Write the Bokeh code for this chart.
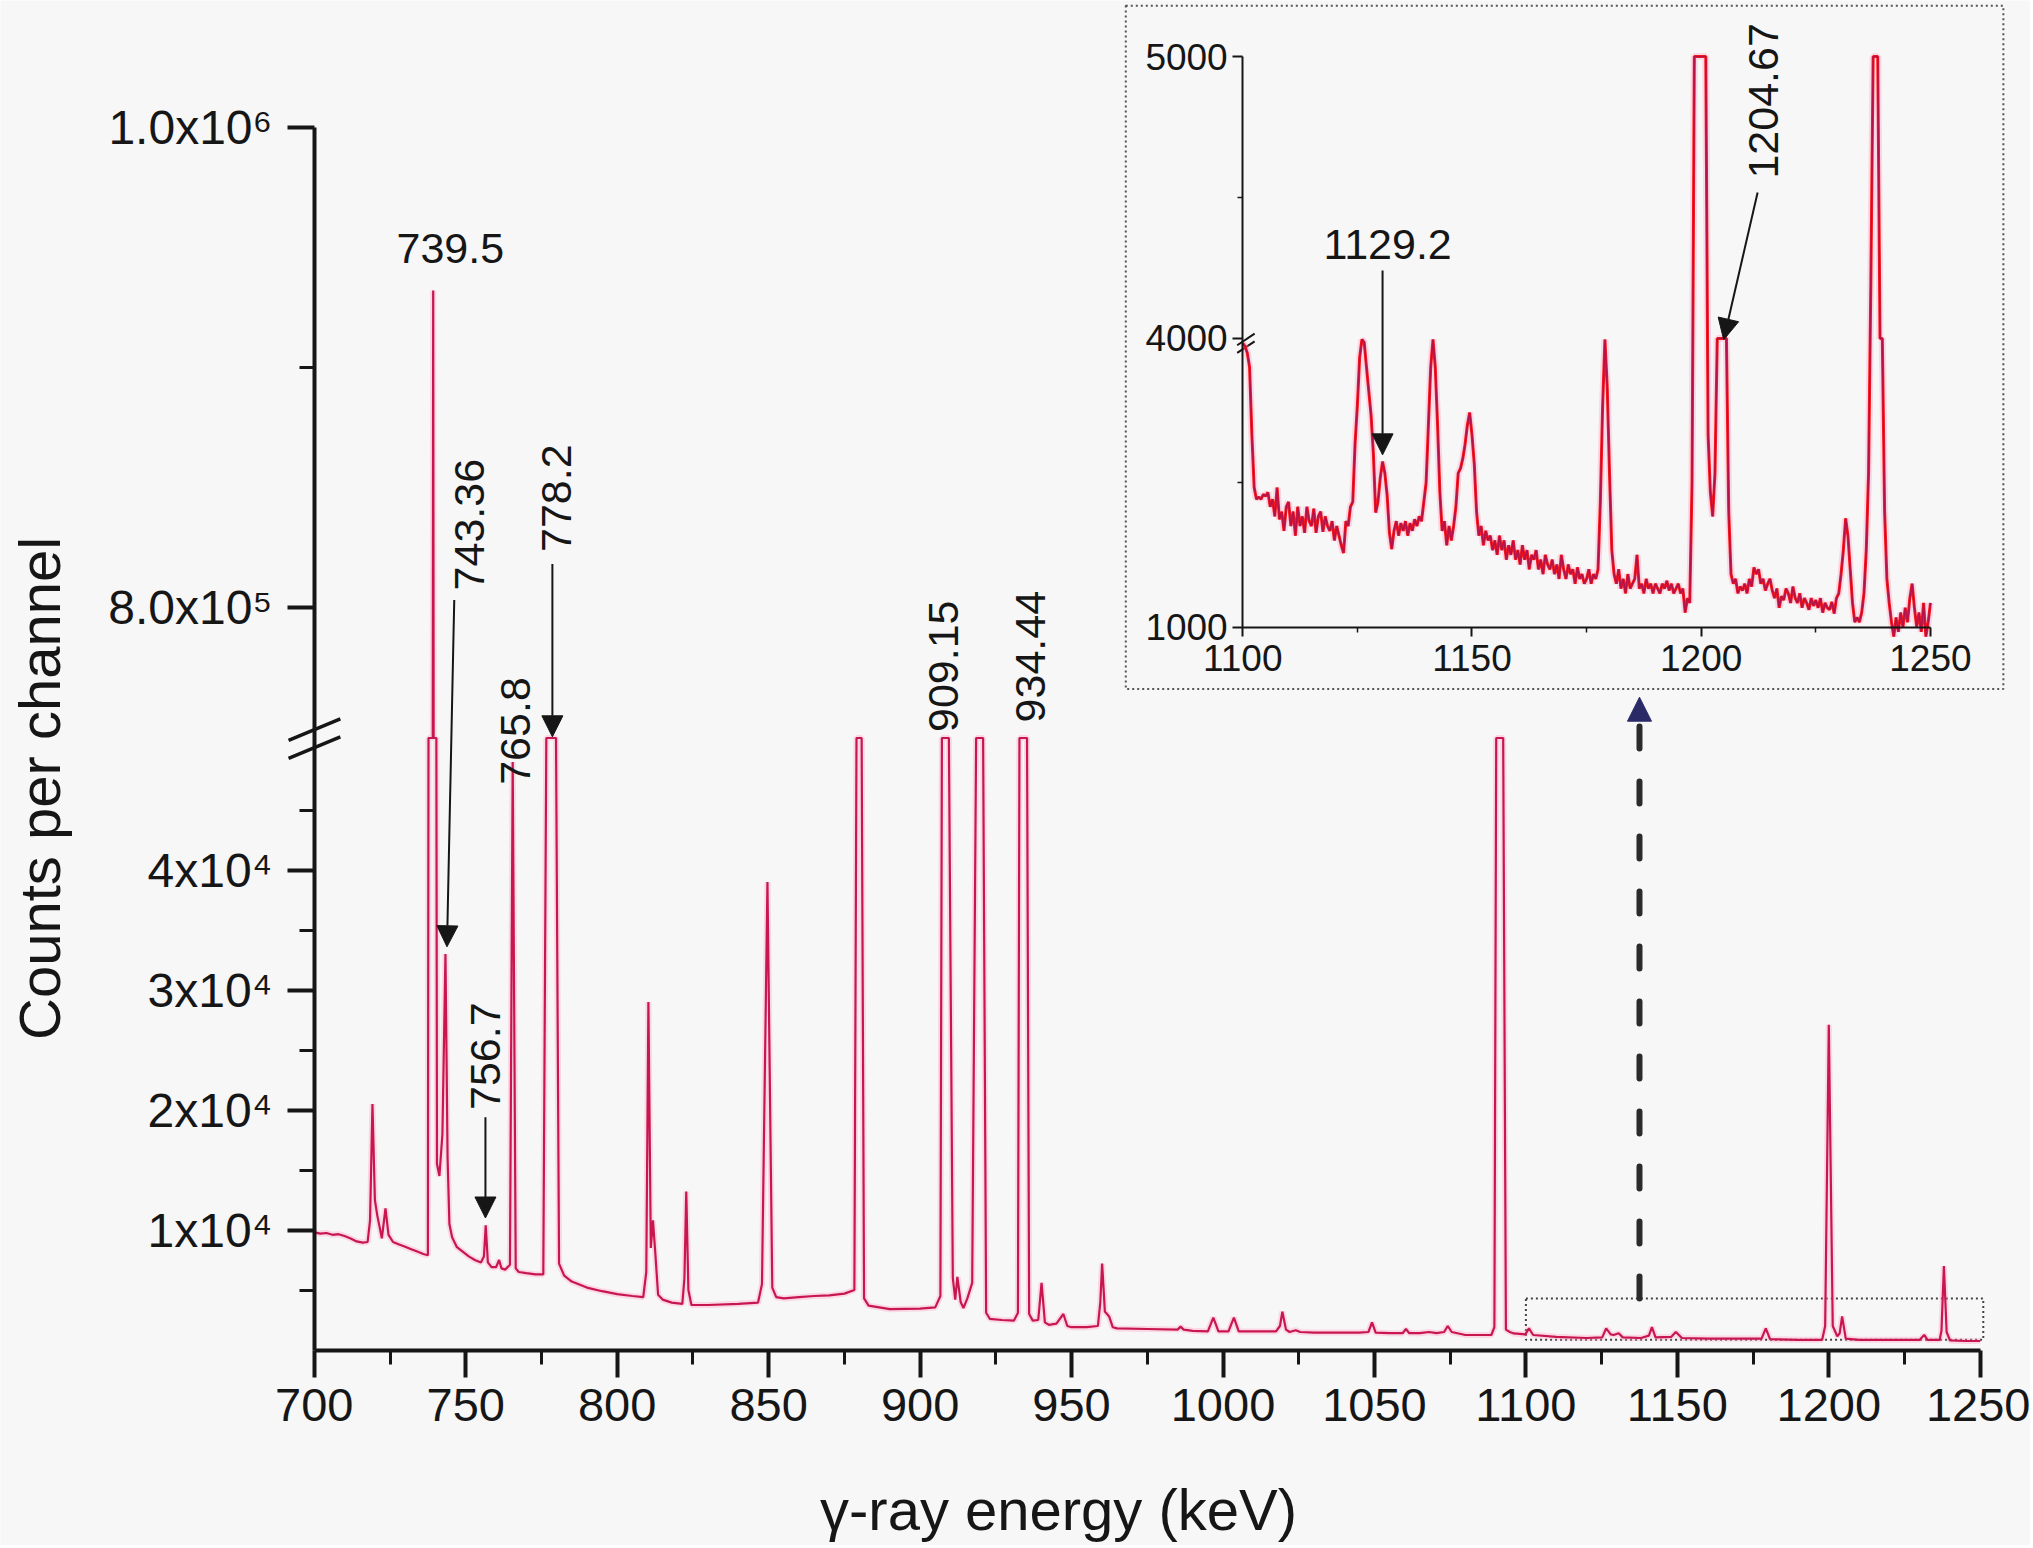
import numpy as np
from bokeh.plotting import figure
from bokeh.models import Range1d, LinearAxis, FixedTicker, Label, Arrow, NormalHead
from bokeh.embed import file_html
from bokeh.resources import INLINE

# ------------------------------------------------------------------ data
# main spectrum (energy in keV, counts per channel);
# 51000 marks the places where a peak is cut by the axis break
ENERGY_KEV = [
    700.0, 702.0, 704.0, 706.0, 708.0, 710.0, 712.0, 714.0, 716.0, 717.6,
    718.4, 719.2, 720.0, 720.8, 721.6, 722.3, 723.5, 724.5, 726.0, 728.0,
    730.0, 732.0, 734.0, 736.0, 737.5, 737.7, 739.1, 739.25, 739.4, 740.3,
    740.5, 741.3, 742.3, 743.3, 744.0, 744.6, 745.5, 747.0, 749.0, 751.0,
    753.0, 755.0, 756.0, 756.6, 757.3, 758.5, 760.0, 761.0, 761.8, 763.0,
    764.6, 765.5, 766.5, 767.5, 770.0, 773.0, 775.6, 776.6, 779.8, 780.8,
    782.5, 785.0, 790.0, 795.0, 800.0, 805.0, 808.6, 809.6, 810.3, 811.1,
    811.8, 812.6, 813.5, 815.0, 818.0, 821.5, 822.2, 822.8, 823.5, 824.5,
    830.0, 840.0, 846.5, 847.8, 849.6, 851.2, 852.5, 855.0, 860.0, 865.0,
    870.0, 875.0, 878.3, 879.0, 880.7, 881.5, 883.0, 890.0, 900.0, 905.0,
    906.7, 907.2, 909.5, 910.8, 911.6, 912.3, 913.4, 914.3, 915.6, 917.2,
    918.5, 920.8, 921.8, 923.0, 927.0, 931.0, 932.3, 932.8, 935.3, 936.0,
    937.2, 939.0, 940.1, 941.2, 942.5, 945.0, 947.3, 948.6, 950.0, 955.0,
    958.7, 959.5, 960.1, 961.0, 962.4, 963.6, 965.0, 975.0, 985.0, 986.0,
    987.0, 990.0, 995.0, 996.8, 998.5, 1001.8, 1003.6, 1005.2, 1010.0, 1017.5,
    1018.8, 1019.6, 1020.8, 1022.0, 1024.0, 1025.5, 1030.0, 1045.0, 1048.0, 1049.2,
    1050.4, 1055.0, 1059.3, 1060.4, 1061.5, 1065.0, 1068.0, 1070.5, 1073.0, 1074.2,
    1075.5, 1080.0, 1088.6, 1089.6, 1090.2, 1092.5, 1093.4, 1094.7, 1096.0, 1099.8,
    1101.0, 1102.4, 1110.0, 1120.0, 1125.2, 1126.5, 1128.0, 1129.0, 1130.6, 1132.0,
    1138.0, 1140.6, 1141.6, 1142.8, 1148.0, 1149.5, 1151.5, 1160.0, 1170.0, 1177.8,
    1179.2, 1180.6, 1190.0, 1197.8, 1198.8, 1200.0, 1201.3, 1202.8, 1203.6, 1204.4,
    1205.6, 1210.0, 1220.0, 1230.0, 1231.5, 1232.6, 1236.6, 1237.2, 1238.0, 1238.9,
    1240.0, 1245.0, 1250.0,
]
COUNTS = [
    9800, 9700, 9750, 9600, 9650, 9500, 9300, 9050, 8950, 9000,
    10800, 20500, 12500, 11200, 10200, 9300, 11800, 9600, 9000, 8800,
    8600, 8400, 8200, 8000, 7900, 51000, 51000, 932000, 51000, 51000,
    15500, 14500, 18000, 33000, 16000, 10500, 9400, 8600, 8200, 7800,
    7500, 7300, 7800, 10400, 7300, 6900, 6900, 7500, 6800, 6700,
    7100, 49000, 6800, 6500, 6400, 6300, 6300, 51000, 51000, 7200,
    6200, 5700, 5200, 4900, 4650, 4500, 4400, 6500, 29000, 8500,
    10800, 8000, 4600, 4200, 3950, 3850, 6000, 13200, 5000, 3750,
    3750, 3850, 3950, 5500, 39000, 5200, 4400, 4300, 4400, 4500,
    4550, 4700, 5000, 51000, 51000, 4300, 3700, 3400, 3450, 3550,
    4500, 51000, 51000, 6000, 4200, 6100, 4000, 3500, 4300, 5600,
    51000, 51000, 3100, 2600, 2500, 2450, 3100, 51000, 51000, 3000,
    2450, 2500, 5600, 2300, 2100, 2200, 3000, 2000, 1900, 1900,
    2000, 4000, 7200, 3200, 2800, 1900, 1800, 1750, 1700, 1950,
    1700, 1600, 1550, 2700, 1550, 1550, 2700, 1550, 1550, 1550,
    2000, 3200, 1700, 1500, 1650, 1500, 1450, 1450, 1500, 2300,
    1450, 1400, 1400, 1750, 1400, 1400, 1500, 1400, 1500, 2000,
    1500, 1250, 1250, 1900, 51000, 51000, 1700, 1500, 1380, 1300,
    1800, 1250, 1100, 1000, 1050, 1800, 1300, 1250, 1400, 1050,
    1000, 1200, 1900, 1050, 1100, 1500, 1000, 950, 950, 950,
    1800, 900, 850, 850, 2000, 27100, 2000, 1150, 1400, 2800,
    950, 850, 850, 850, 1250, 850, 850, 1600, 7000, 1500,
    800, 750, 750,
]

# inset spectrum: channels every 0.5 keV from 1100 keV
INSET_START_KEV = 1100.0
INSET_STEP_KEV = 0.5
INSET_COUNTS = [
    3950, 3920, 3850, 3700, 3000, 2450, 2330, 2350, 2330, 2380,   # 1100
    2360, 2400, 2250, 2330, 2150, 2450, 2120, 2200, 2000, 2250,   # 1105
    2300, 2050, 2200, 1950, 2250, 2050, 2150, 1980, 2250, 2100,   # 1110
    2050, 2230, 1980, 2150, 2200, 1990, 2150, 2050, 2000, 2100,   # 1115
    1900, 2050, 1950, 1850, 1770, 2100, 2050, 2250, 2300, 2900,   # 1120
    3300, 3800, 3990, 3960, 3700, 3450, 3200, 2800, 2190, 2300,   # 1125
    2550, 2720, 2600, 2370, 1980, 1810, 2000, 2100, 1950, 2080,   # 1130
    2000, 2100, 1950, 2080, 2000, 2120, 2050, 2150, 2100, 2300,   # 1135
    2500, 3100, 3700, 3990, 3700, 3100, 2400, 2000, 2100, 1850,   # 1140
    2050, 1900, 2050, 2250, 2600, 2650, 2750, 2900, 3100, 3230,   # 1145
    3000, 2700, 2200, 1950, 2050, 1850, 2000, 1900, 1950, 1800,   # 1150
    1900, 1750, 1950, 1800, 1900, 1700, 1850, 1750, 1900, 1700,   # 1155
    1800, 1650, 1850, 1700, 1800, 1600, 1750, 1700, 1800, 1600,   # 1160
    1700, 1550, 1750, 1650, 1600, 1700, 1550, 1650, 1500, 1750,   # 1165
    1600, 1500, 1650, 1550, 1600, 1450, 1620, 1500, 1550, 1450,   # 1170
    1500, 1600, 1450, 1550, 1500, 1600, 2300, 3300, 3990, 3500,   # 1175
    2600, 1800, 1550, 1450, 1600, 1400, 1500, 1350, 1550, 1400,   # 1180
    1450, 1500, 1750, 1400, 1450, 1350, 1500, 1400, 1450, 1350,   # 1185
    1450, 1400, 1350, 1450, 1400, 1480, 1380, 1450, 1350, 1400,   # 1190
    1450, 1350, 1400, 1150, 1300, 1250, 2500, 5000, 5000, 5000,   # 1195
    5000, 5000, 5000, 3000, 2400, 2150, 2600, 4000, 4000, 4000,   # 1200
    4000, 4000, 2200, 1550, 1450, 1500, 1350, 1420, 1380, 1450,   # 1205
    1350, 1500, 1420, 1620, 1550, 1600, 1450, 1500, 1380, 1450,   # 1210
    1500, 1380, 1300, 1400, 1200, 1320, 1280, 1400, 1350, 1250,   # 1215
    1420, 1300, 1250, 1350, 1200, 1300, 1250, 1180, 1300, 1220,   # 1220
    1280, 1200, 1300, 1150, 1250, 1200, 1180, 1260, 1140, 1300,   # 1225
    1350, 1550, 1800, 2130, 1950, 1600, 1250, 1050, 1100, 1050,   # 1230
    1150, 1350, 1800, 2600, 4200, 5000, 5000, 5000, 4000, 4000,   # 1235
    2200, 1500, 1250, 1050, 900, 1100, 950, 1150, 1000, 1200,     # 1240
    1050, 1300, 1450, 1200, 1000, 1150, 950, 1250, 900, 1050,     # 1245
    1250,                                                         # 1250
]

MAIN_X_TICKS = [700, 750, 800, 850, 900, 950, 1000, 1050, 1100, 1150, 1200, 1250]
MAIN_X_MINOR = [725, 775, 825, 875, 925, 975, 1025, 1075, 1125, 1175, 1225]
MAIN_Y_TICK_COUNTS = [1e4, 2e4, 3e4, 4e4, 8e5, 1e6]
MAIN_Y_TICK_LABELS = ["1x10\u2074", "2x10\u2074", "3x10\u2074", "4x10\u2074",
                      "8.0x10\u2075", "1.0x10\u2076"]
MAIN_Y_MINOR_COUNTS = [5e3, 1.5e4, 2.5e4, 3.5e4, 4.5e4, 9e5]

INSET_X_TICKS = [1100, 1150, 1200, 1250]
INSET_X_MINOR = [1125, 1175, 1225]
INSET_Y_TICK_COUNTS = [1000, 4000, 5000]
INSET_Y_TICK_LABELS = ["1000", "4000", "5000"]
INSET_Y_MINOR_COUNTS = [2500, 4500]

X_TITLE = "\u03b3-ray energy (keV)"
Y_TITLE = "Counts per channel"

# peak labels: text, energy (keV), counts (centre of horizontal text / start of
# rotated text), rotated?
MAIN_PEAK_LABELS = [
    ("739.5", 744.9, 9.493e5, False),
    ("743.36", 751.4, 8.07e5, True),
    ("778.2", 780.0, 8.23e5, True),
    ("765.8", 766.3, 4.71e4, True),
    ("756.7", 756.5, 2.0e4, True),
    ("909.15", 907.8, 7.48e5, True),
    ("934.44", 936.4, 7.52e5, True),
]
# arrows: (x_start, counts_start, x_end, counts_end)
MAIN_PEAK_ARROWS = [
    (746.2, 8.03e5, 743.8, 3.36e4),
    (778.6, 8.18e5, 778.6, 7.46e5),
    (756.5, 1.94e4, 756.5, 1.10e4),
]
INSET_PEAK_LABELS = [
    ("1129.2", 1131.6, 4333, False),
    ("1204.67", 1213.6, 4567, True),
]
INSET_PEAK_ARROWS = [
    (1130.5, 4241, 1130.5, 2790),
    (1212.3, 4518, 1204.9, 3986),
]

# ------------------------------------------------------------------ styling
FONT = "Liberation Sans"
INK = "#161616"
BG = "#f7f7f7"
LINE = "#c8174f"
HALO = "#ff9fc3"

# broken main y axis: lower part 1 unit = 1e4 counts, upper part 1 unit = 5e4 counts
LOWER_UNIT = 1e4
BREAK_U = 5.1
UPPER_C0, UPPER_U0, UPPER_UNIT = 8e5, 6.19, 5e4
BREAK_LO = BREAK_U * LOWER_UNIT
BREAK_HI = UPPER_C0 - (UPPER_U0 - BREAK_U) * UPPER_UNIT


def main_u(c):
    c = np.asarray(c, dtype=float)
    return np.where(c >= BREAK_HI, UPPER_U0 + (c - UPPER_C0) / UPPER_UNIT,
                    np.minimum(c, BREAK_LO) / LOWER_UNIT)


# broken inset y axis: 1000-4000 compressed, 4000-5000 expanded
INSET_UPPER_GAIN = 2.932


def inset_u(c):
    c = np.asarray(c, dtype=float)
    return np.where(c <= 4000, (c - 1000) / 1000, 3 + (c - 4000) / 1000 * INSET_UPPER_GAIN)


W, H = 2030, 1545
p = figure(width=W, height=H,
           x_range=Range1d(596.40, 596.40 + W / 3.029),
           y_range=Range1d(-(H - 1349.5) / 120.0, 1349.5 / 120.0),
           x_axis_type=None, y_axis_type=None, toolbar_location=None,
           output_backend="svg", min_border=0, title=None,
           background_fill_color=BG, border_fill_color=BG, outline_line_color=None)
p.extra_x_ranges = {"ix": Range1d(829.07, 829.07 + W / 4.585)}
p.extra_y_ranges = {"iy": Range1d(-(H - 626.5) / 96.17, 626.5 / 96.17)}
IN = dict(x_range_name="ix", y_range_name="iy")


def style_axis(ax, size, lw, tout, mout, standoff):
    ax.axis_line_color = INK
    ax.axis_line_width = lw
    ax.major_tick_line_color = INK
    ax.major_tick_line_width = lw
    ax.minor_tick_line_color = INK
    ax.minor_tick_line_width = max(1.5, lw - 1)
    ax.major_tick_in = 0
    ax.major_tick_out = tout
    ax.minor_tick_in = 0
    ax.minor_tick_out = mout
    ax.major_label_text_font = FONT
    ax.major_label_text_font_size = f"{size}px"
    ax.major_label_text_color = INK
    ax.major_label_standoff = standoff


# ---- main axes
xax = LinearAxis(fixed_location=0, bounds=(700, 1250),
                 ticker=FixedTicker(ticks=MAIN_X_TICKS, minor_ticks=MAIN_X_MINOR))
style_axis(xax, 47, 4, 27, 14, 12)
p.add_layout(xax, "below")

y_ticks = [float(main_u(c)) for c in MAIN_Y_TICK_COUNTS]
y_minor = [float(main_u(c)) for c in MAIN_Y_MINOR_COUNTS]
yax = LinearAxis(fixed_location=700, bounds=(0.0, float(main_u(1e6))),
                 ticker=FixedTicker(ticks=y_ticks, minor_ticks=y_minor),
                 major_label_overrides={t: s for t, s in zip(y_ticks, MAIN_Y_TICK_LABELS)})
style_axis(yax, 48, 4, 27, 15, 15)
p.add_layout(yax, "left")

# axis-break marks on the main y axis
p.segment(x0=[691.5, 691.5], y0=[5.08, 4.93], x1=[708.6, 708.6], y1=[5.26, 5.11],
          line_color=INK, line_width=3.5)

# ---- inset frame (dotted) and inset axes
p.quad(left=[1074.5], right=[1265.9], bottom=[float(inset_u(355))], top=[float(inset_u(5180))],
       fill_color=None, line_color="#555555", line_width=2, line_dash="2 3", **IN)

ixax = LinearAxis(fixed_location=0, bounds=(1100, 1250), **IN,
                  ticker=FixedTicker(ticks=INSET_X_TICKS, minor_ticks=INSET_X_MINOR))
style_axis(ixax, 37, 2, 9, 5, 9)
p.add_layout(ixax, "below")

iy_ticks = [float(inset_u(c)) for c in INSET_Y_TICK_COUNTS]
iy_minor = [float(inset_u(c)) for c in INSET_Y_MINOR_COUNTS]
iyax = LinearAxis(fixed_location=1100, bounds=(0.0, float(inset_u(5000))), **IN,
                  ticker=FixedTicker(ticks=iy_ticks, minor_ticks=iy_minor),
                  major_label_overrides={t: s for t, s in zip(iy_ticks, INSET_Y_TICK_LABELS)})
style_axis(iyax, 37, 2, 10, 5, 5)
p.add_layout(iyax, "left")
p.segment(x0=[1098.8, 1098.8], y0=[2.93, 2.85], x1=[1102.6, 1102.6], y1=[3.05, 2.97],
          line_color=INK, line_width=2, **IN)

# ---- zoom box in the main plot and dashed arrow up to the inset
p.quad(left=[1100], right=[1251], bottom=[float(main_u(850))], top=[float(main_u(4300))],
       fill_color=None, line_color="#444444", line_width=2, line_dash="2 3")
p.add_layout(Arrow(end=NormalHead(size=24, fill_color="#2a2a66", line_color="#2a2a66"),
                   x_start=1137.5, y_start=float(main_u(4300)),
                   x_end=1137.5, y_end=float(main_u(7.625e5)),
                   line_color="#2b2b2b", line_width=6, line_dash="22 33", line_cap="round"))

# ---- spectra
xm = np.array(ENERGY_KEV, dtype=float)
um = main_u(COUNTS)
p.line(xm, um, line_color=HALO, line_width=6, line_alpha=0.35)
p.line(xm, um, line_color=LINE, line_width=2.2)

xi = INSET_START_KEV + INSET_STEP_KEV * np.arange(len(INSET_COUNTS))
ui = inset_u(INSET_COUNTS)
p.line(xi, ui, line_color=HALO, line_width=7, line_alpha=0.35, **IN)
p.line(xi, ui, line_color="#ff1a1a", line_width=3, **IN)
p.line(xi, ui, line_color="#b3124a", line_width=1.5, **IN)

# ---- peak labels and arrows
for text, x, c, rot in MAIN_PEAK_LABELS:
    p.add_layout(Label(x=x, y=float(main_u(c)), text=text, text_font=FONT,
                       text_font_size="43px", text_color=INK,
                       angle=np.pi / 2 if rot else 0.0,
                       text_align="left" if rot else "center",
                       text_baseline="middle"))
for x0, c0, x1, c1 in MAIN_PEAK_ARROWS:
    p.add_layout(Arrow(end=NormalHead(size=21, fill_color=INK, line_color=INK),
                       x_start=x0, y_start=float(main_u(c0)), x_end=x1, y_end=float(main_u(c1)),
                       line_color=INK, line_width=2))
for text, x, c, rot in INSET_PEAK_LABELS:
    p.add_layout(Label(x=x, y=float(inset_u(c)), text=text, text_font=FONT,
                       text_font_size="43px", text_color=INK,
                       angle=np.pi / 2 if rot else 0.0,
                       text_align="left" if rot else "center",
                       text_baseline="middle", **IN))
for x0, c0, x1, c1 in INSET_PEAK_ARROWS:
    p.add_layout(Arrow(end=NormalHead(size=21, fill_color=INK, line_color=INK),
                       x_start=x0, y_start=float(inset_u(c0)), x_end=x1, y_end=float(inset_u(c1)),
                       line_color=INK, line_width=2, **IN))

# ---- axis titles
p.add_layout(Label(x=945.7, y=(1349.5 - 1509.0) / 120.0, text=X_TITLE, text_font=FONT,
                   text_font_size="58px", text_color=INK,
                   text_align="center", text_baseline="middle"))
p.add_layout(Label(x=609.3, y=4.68, text=Y_TITLE, text_font=FONT, text_font_size="58px",
                   text_color=INK, text_align="center", text_baseline="middle",
                   angle=np.pi / 2))

open("out.html", "w").write(file_html(p, INLINE))
